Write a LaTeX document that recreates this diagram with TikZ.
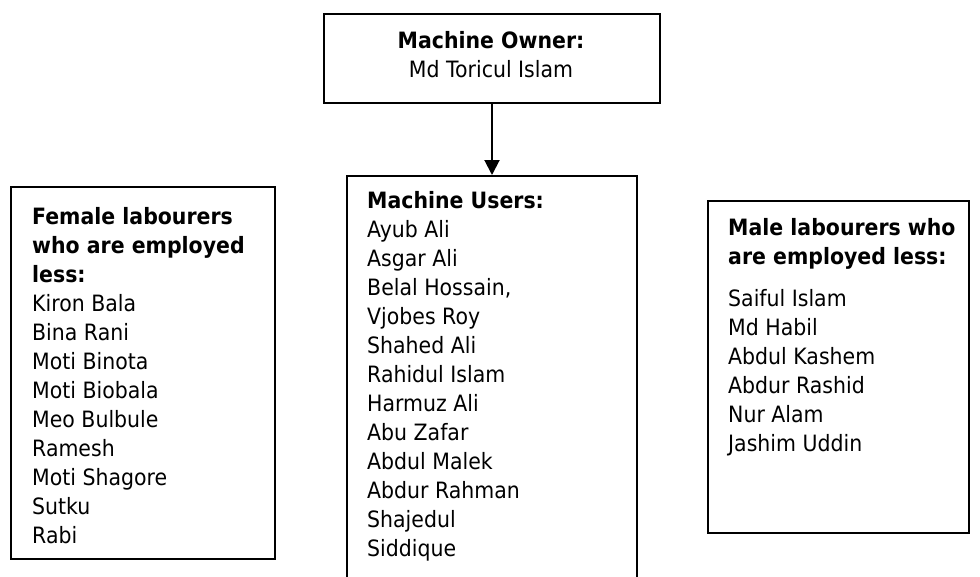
\documentclass[tikz,border=0pt]{standalone}
\usepackage{fontspec}
\setmainfont[FakeStretch=0.91]{DejaVu Sans}
\usetikzlibrary{arrows.meta}
\tikzset{
  box/.style={draw=black, line width=2pt, inner sep=0pt, anchor=north west},
  txt/.style={align=left, inner sep=0pt, anchor=north west, text=black,
    font=\fontsize{22.5}{29}\selectfont},
  ctxt/.style={align=center, inner sep=0pt, anchor=north, text=black,
    font=\fontsize{22.5}{29}\selectfont},
  conn/.style={line width=2pt, -{Triangle[length=15pt,width=15pt]}}
}
\begin{document}
\begin{tikzpicture}[x=1pt,y=-1pt]
\useasboundingbox (0,0) rectangle (980,576);
\fill[white] (0,0) rectangle (980,576);
\clip (0,0) rectangle (980,576);
% boxes
\node[box, minimum width=336pt, minimum height=89pt] (owner) at (323,13) {};
\node[box, minimum width=264pt, minimum height=372pt] (female) at (10,186) {};
\node[box, minimum width=290pt, minimum height=410pt] (users) at (346,175) {};
\node[box, minimum width=261pt, minimum height=332pt] (male) at (707,200) {};
% texts
\node[ctxt] (ownertxt) at (491,31) {\textbf{Machine Owner:}\\Md Toricul Islam};
\node[txt] (femaletxt) at (32,207) {\textbf{Female labourers}\\\textbf{who are employed}\\\textbf{less:}\\Kiron Bala\\Bina Rani\\Moti Binota\\Moti Biobala\\Meo Bulbule\\Ramesh\\Moti Shagore\\Sutku\\Rabi};
\node[txt] (userstxt) at (367,191) {\textbf{Machine Users:}\\Ayub Ali\\Asgar Ali\\Belal Hossain,\\Vjobes Roy\\Shahed Ali\\Rahidul Islam\\Harmuz Ali\\Abu Zafar\\Abdul Malek\\Abdur Rahman\\Shajedul\\Siddique};
\node[txt] (maletxt) at (728,218) {\textbf{Male labourers who}\\\textbf{are employed less:}\\[13pt]Saiful Islam\\Md Habil\\Abdul Kashem\\Abdur Rashid\\Nur Alam\\Jashim Uddin};
% connector
\draw[conn] (owner.south) -- (users.north);
\end{tikzpicture}
\end{document}
